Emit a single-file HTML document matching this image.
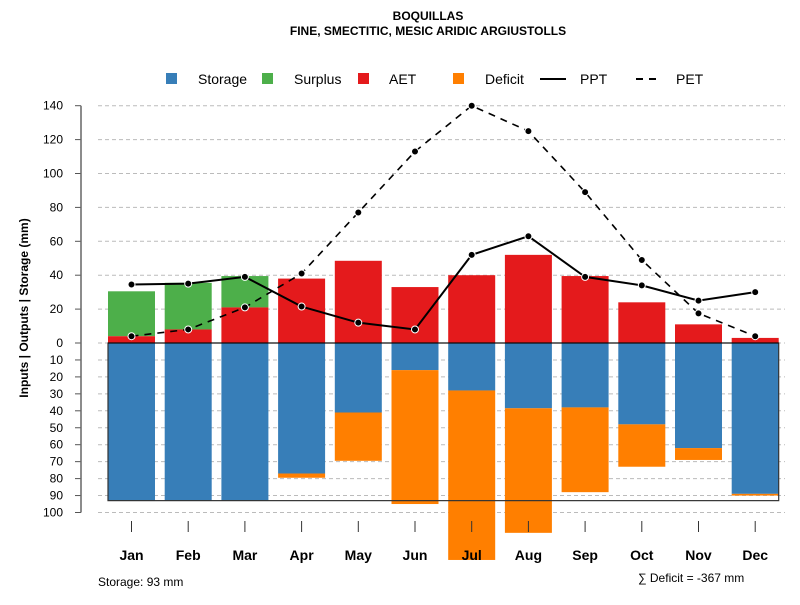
<!DOCTYPE html>
<html><head><meta charset="utf-8"><style>
body{margin:0;background:#fff}
svg{font-family:"Liberation Sans",sans-serif}
</style></head><body>
<svg id="c" width="800" height="600" viewBox="0 0 800 600">
<text x="428" y="20" text-anchor="middle" font-size="12" font-weight="bold">BOQUILLAS</text>
<text x="428" y="35" text-anchor="middle" font-size="12" font-weight="bold">FINE, SMECTITIC, MESIC ARIDIC ARGIUSTOLLS</text>
<g font-size="14">
<rect x="166" y="73" width="11" height="11" fill="#377eb8"/>
<text x="198" y="84">Storage</text>
<rect x="262" y="73" width="11" height="11" fill="#4daf4a"/>
<text x="294" y="84">Surplus</text>
<rect x="358" y="73" width="11" height="11" fill="#e41a1c"/>
<text x="389" y="84">AET</text>
<rect x="453" y="73" width="11" height="11" fill="#ff7f00"/>
<text x="485" y="84">Deficit</text>
<line x1="540" y1="79" x2="566" y2="79" stroke="#000" stroke-width="2"/>
<text x="580" y="84">PPT</text>
<line x1="636" y1="79" x2="662" y2="79" stroke="#000" stroke-width="2" stroke-dasharray="7,6"/>
<text x="676" y="84">PET</text>
</g>
<text transform="translate(28,308) rotate(-90)" text-anchor="middle" font-size="12" font-weight="bold">Inputs | Outputs | Storage    (mm)</text>
<g id="grid"></g><g id="bars"></g><g id="lines"></g><g id="axes"></g>
<text x="98" y="586" font-size="12">Storage: 93 mm</text>
<text x="638" y="582" font-size="12">∑ Deficit = -367 mm</text>
</svg>
<script>
const months=["Jan","Feb","Mar","Apr","May","Jun","Jul","Aug","Sep","Oct","Nov","Dec"];
const ppt=[34.5,35,39,21.5,12,8,52,63,39,34,25,30];
const pet=[4,8,21,41,77,113,140,125,89,49,17.5,4];
const aet=[4,8,21,38,48.5,33,40,52,39.5,24,11,3];
const surplus=[26.5,27.5,18.5,0,0,0,0,0,0,0,0,0];
const storage=[93,93,93,77,41,16,28,38.5,38,48,62,89];
const deficit=[0,0,0,2.5,28.5,79,100,73.5,50,25,7,1];
const upTicks=[0,20,40,60,80,100,120,140];
const downTicks=[10,20,30,40,50,60,70,80,90,100];
const storageMax=93;
const NS="http://www.w3.org/2000/svg";
const y0=343,k=1.695;
const yUp=v=>y0-v*k, yDn=v=>y0+v*k, xC=i=>131.5+i*56.7, bw=47;
function mk(p,t,a){const e=document.createElementNS(NS,t);for(const n in a)e.setAttribute(n,a[n]);document.getElementById(p).appendChild(e);return e;}
const ax=document.getElementById('axes');
upTicks.forEach(v=>{
 const g=mk('grid','line',{x1:98,x2:785,y1:yUp(v),y2:yUp(v),stroke:'#bbb','stroke-dasharray':'4,3'});
 
 const t=mk('axes','line',{x1:75,x2:81,y1:yUp(v),y2:yUp(v),stroke:'#555'});
 
 const l=mk('axes','text',{x:63,y:yUp(v)+4,'text-anchor':'end','font-size':12});l.textContent=v;
 
});
downTicks.forEach(v=>{
 const g=mk('grid','line',{x1:98,x2:785,y1:yDn(v),y2:yDn(v),stroke:'#bbb','stroke-dasharray':'4,3'});
 
 const t=mk('axes','line',{x1:75,x2:81,y1:yDn(v),y2:yDn(v),stroke:'#555'});
 
 const l=mk('axes','text',{x:63,y:yDn(v)+4,'text-anchor':'end','font-size':12});l.textContent=v;
 
});
const axl=mk('axes','line',{x1:81,x2:81,y1:yUp(140),y2:yDn(100),stroke:'#666','stroke-width':1.5});

months.forEach((m,i)=>{
 const x=xC(i);
 let r=mk('bars','rect',{x:x-bw/2,y:yUp(aet[i]+surplus[i]),width:bw,height:surplus[i]*k,fill:'#4daf4a'});
 
 r=mk('bars','rect',{x:x-bw/2,y:yUp(aet[i]),width:bw,height:aet[i]*k,fill:'#e41a1c'});
 
 r=mk('bars','rect',{x:x-bw/2,y:y0,width:bw,height:storage[i]*k,fill:'#377eb8'});
 
 r=mk('bars','rect',{x:x-bw/2,y:yDn(storage[i]),width:bw,height:deficit[i]*k,fill:'#ff7f00'});
 
 const t=mk('axes','line',{x1:x,x2:x,y1:521,y2:532,stroke:'#333'});
 
 const l=mk('axes','text',{x:x,y:560,'text-anchor':'middle','font-size':14,'font-weight':'bold'});l.textContent=m;
 
});
const box=mk('bars','rect',{x:xC(0)-bw/2,y:y0,width:xC(11)-xC(0)+bw,height:storageMax*k,fill:'none',stroke:'#333','stroke-width':1.2});

const zl=mk('bars','line',{x1:xC(0)-bw/2,x2:xC(11)+bw/2,y1:y0,y2:y0,stroke:'#000'});

const pp=mk('lines','polyline',{points:ppt.map((v,i)=>xC(i)+','+yUp(v)).join(' '),fill:'none',stroke:'#000','stroke-width':2});

const pe=mk('lines','polyline',{points:pet.map((v,i)=>xC(i)+','+yUp(v)).join(' '),fill:'none',stroke:'#000','stroke-width':1.6,'stroke-dasharray':'7,6'});

ppt.forEach((v,i)=>{const c=mk('lines','circle',{cx:xC(i),cy:yUp(v),r:3.5,fill:'#000',stroke:'#fff','stroke-width':1});
 });
pet.forEach((v,i)=>{const c=mk('lines','circle',{cx:xC(i),cy:yUp(v),r:3.5,fill:'#000',stroke:'#fff','stroke-width':1});
 });
</script>
</body></html>
